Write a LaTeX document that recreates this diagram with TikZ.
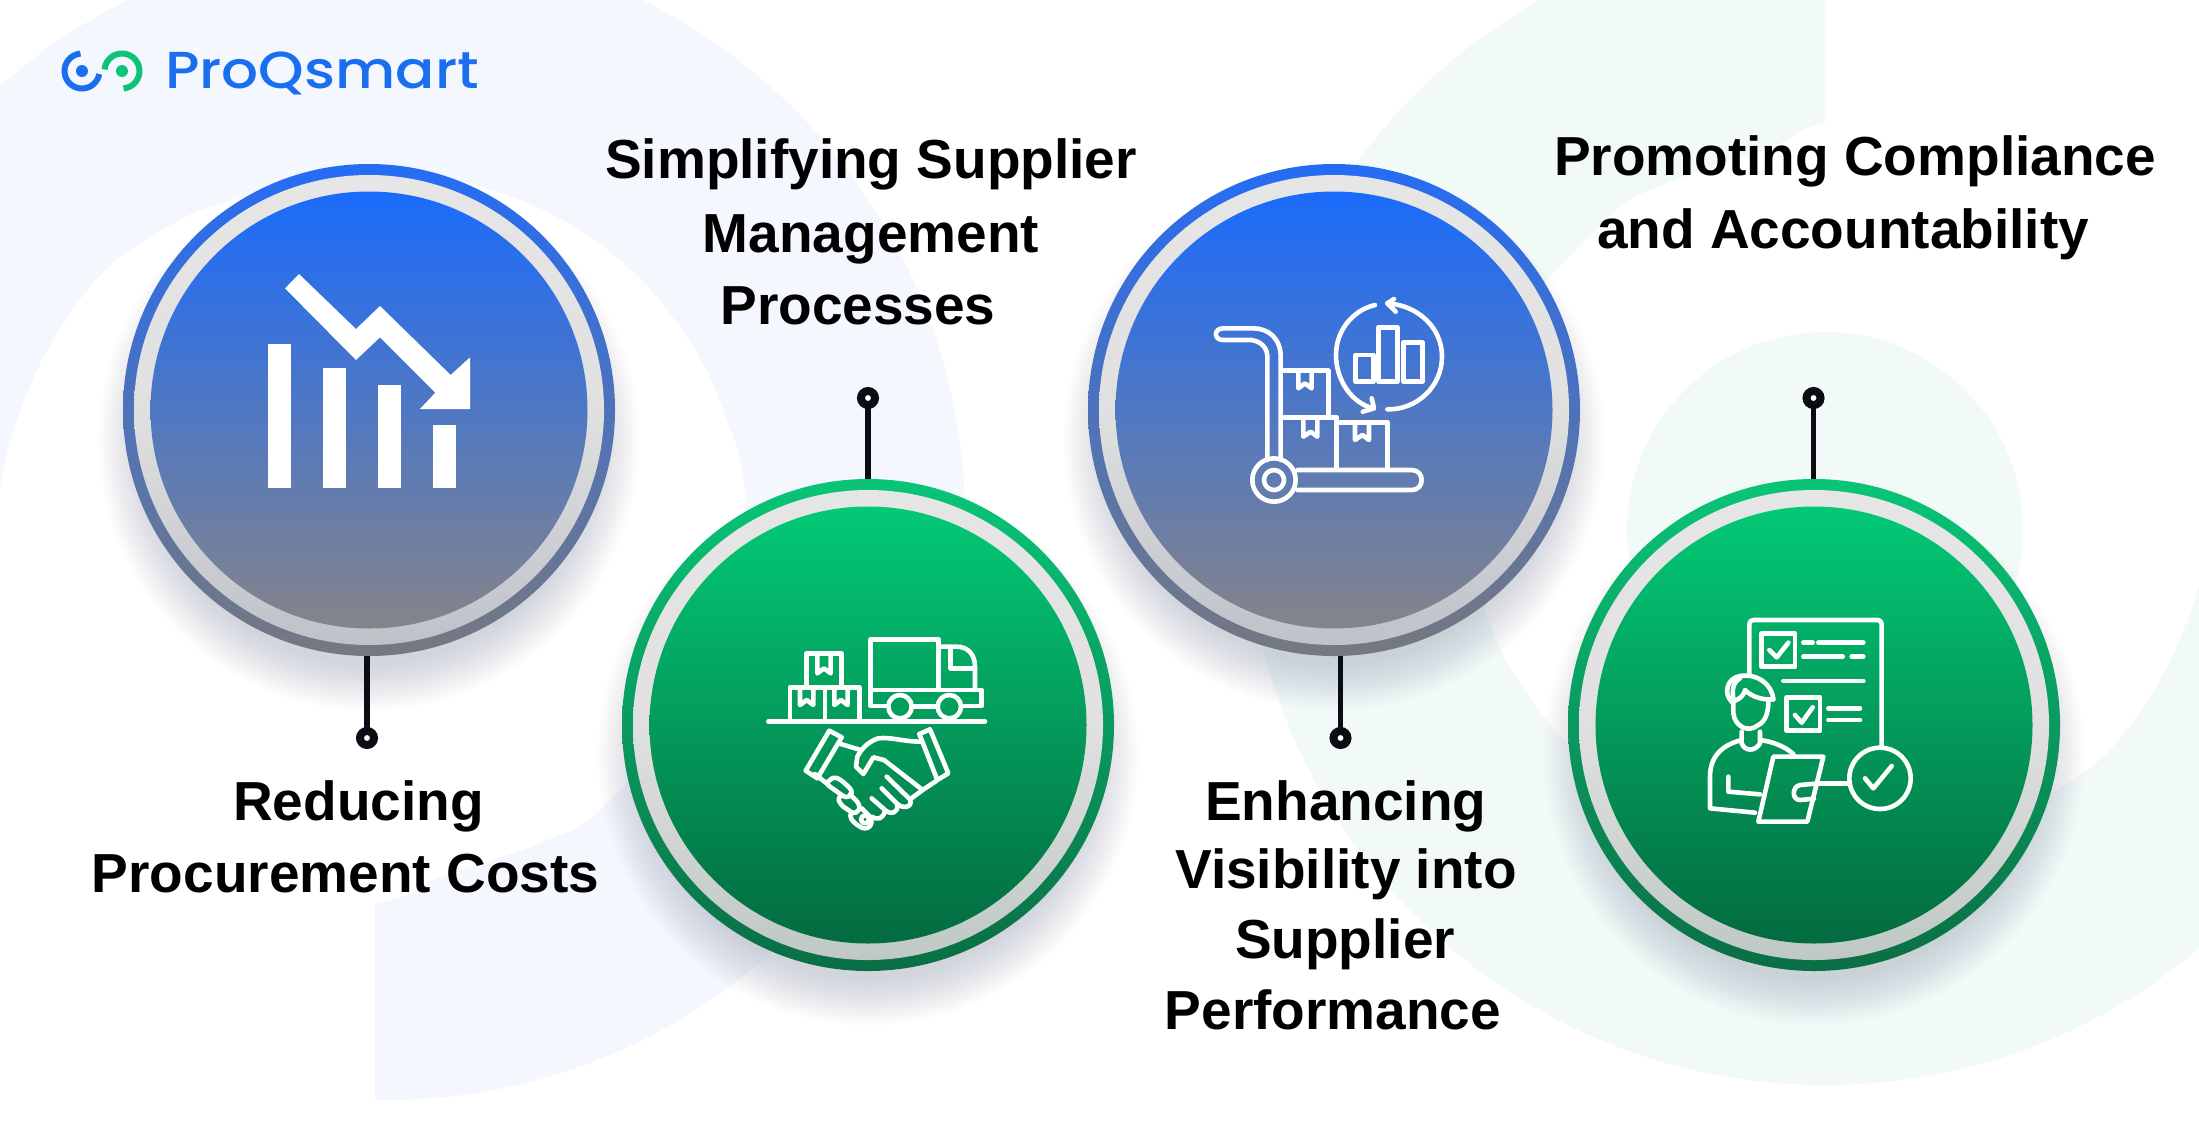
\documentclass[tikz,border=0pt]{standalone}
\usepackage{fontspec}
\setmainfont{Liberation Sans}
\newfontfamily\logofont{Poppins Medium}
\definecolor{paleblue}{HTML}{F4F7FE}
\definecolor{palegreen}{HTML}{F2FAF7}
\definecolor{shadowc}{HTML}{5A6478}
\definecolor{logoblue}{HTML}{1A6FEF}
\definecolor{logogreen}{HTML}{0CC477}
\definecolor{pinc}{HTML}{0A0D14}
\tikzset{
  lbl/.style={anchor=base,inner sep=0pt,font=\fontsize{55}{60}\selectfont\bfseries,text=black},
  disk/.style={circle,inner sep=0pt,outer sep=0pt,draw=none},
  pin/.style={circle,inner sep=0pt,outer sep=0pt,minimum size=14pt,line width=8pt,draw=pinc,fill=white},
  conn/.style={draw=pinc,line width=5.4pt},
  ico/.style={draw=white,line width=4.6pt,line join=round,line cap=round},
  icf/.style={fill=white,draw=none}
}
\newcommand{\badge}[8]{%
  \foreach \r in {225,228,...,272}{\fill[shadowc,opacity=.017] (#2,#3+30) circle[radius=\r];}
  \node[disk,minimum size=492pt,top color=#4,bottom color=#5] (#1o) at (#2,#3) {};
  \node[disk,minimum size=470pt,top color=ltop,bottom color=#6,middle color=lmid] (#1m) at (#2,#3) {};
  \node[disk,minimum size=437pt,top color=#7,bottom color=#8] (#1i) at (#2,#3) {};
}
\newcommand{\swooshpath}{(385,520) circle[radius=580]
  plot[smooth cycle,tension=.6] coordinates {(-2,530) (27,393) (93,283) (167,227) (233,200) (376,168) (520,200) (620,260) (687,337) (723,410) (745,500) (725,660) (607,803) (540,843) (440,877) (375,903) (200,903) (40,700)}}
\definecolor{ltop}{HTML}{E6E6E6}
\definecolor{lmid}{HTML}{E0E0E0}
\definecolor{rbt}{HTML}{256CF5}\definecolor{rbb}{HTML}{767880}
\definecolor{lbb}{HTML}{BEC2C9}
\definecolor{dbt}{HTML}{1A6BFB}\definecolor{dbb}{HTML}{85848A}
\definecolor{rgt}{HTML}{09C578}\definecolor{rgb}{HTML}{0A6E45}
\definecolor{lgb}{HTML}{BFC8C4}
\definecolor{dgt}{HTML}{03C975}\definecolor{dgb}{HTML}{036B40}
\begin{document}
\begin{tikzpicture}[x=1pt,y=1pt,yscale=-1]
\useasboundingbox (0,0) rectangle (2199,1128);
\fill[white] (0,0) rectangle (2199,1128);
\begin{scope}
\clip (0,0) rectangle (2199,1128);
% background swooshes
\begin{scope}
  \clip (-200,-200) rectangle (2400,520) (375,520) rectangle (2400,1400);
  \fill[paleblue,even odd rule] \swooshpath;
\end{scope}
\begin{scope}[shift={(2210,1025)},xscale=-1,yscale=-1]
  \clip (-200,-200) rectangle (2400,520) (385,520) rectangle (2400,1400);
  \fill[palegreen,even odd rule] \swooshpath;
\end{scope}
\fill[palegreen] (1825,530) circle[radius=198];
\end{scope}
% badges
\badge{a}{369}{410}{rbt}{rbb}{lbb}{dbt}{dbb}
\badge{b}{868}{725}{rgt}{rgb}{lgb}{dgt}{dgb}
\badge{c}{1334}{410}{rbt}{rbb}{lbb}{dbt}{dbb}
\badge{d}{1814}{725}{rgt}{rgb}{lgb}{dgt}{dgb}
% pins
\node[pin] (pa) at (367,738) {};
\node[pin] (pb) at (868,398) {};
\node[pin] (pc) at (1340.5,738) {};
\node[pin] (pd) at (1813.5,398) {};
\draw[conn] (pa.north) -- (pa.north |- ao.south);
\draw[conn] (pb.south) -- (pb.south |- bo.north);
\draw[conn] (pc.north) -- (pc.north |- co.south);
\draw[conn] (pd.south) -- (pd.south |- do.north);
% labels
\node[lbl] (t1) at (871,178) {Simplifying Supplier};
\node[lbl] (t2) at (871,252) {Management};
\node[lbl] (t3) at (858,324) {Processes};
\node[lbl] (t4) at (358.5,820) {Reducing};
\node[lbl] (t5) at (345.5,892) {Procurement Costs};
\node[lbl] (t6) at (1345.7,820) {Enhancing};
\node[lbl] (t7) at (1346,888.5) {Visibility into};
\node[lbl] (t8) at (1345,958) {Supplier};
\node[lbl] (t9) at (1333,1029) {Performance};
\node[lbl] (t10) at (1855,175) {Promoting Compliance};
\node[lbl] (t11) at (1843,248) {and Accountability};
% logo
\draw[logoblue,line width=6pt] (82,71) ++(-95:17.5) arc (-95:-350:17.5);
\fill[logoblue] (82,71) circle[radius=6];
\draw[logogreen,line width=6pt] (122,71) ++(85:17.5) arc (85:-175:17.5);
\fill[logogreen] (122,71) circle[radius=6];
\node[anchor=base west,inner sep=0pt,font=\logofont\fontsize{52}{60}\selectfont,text=logoblue] (logo) at (165,88) {\scalebox{1.115}[1]{ProQsmart}};
% icon 1
\begin{scope}[shift={(230,250)},scale=1/3]
\fill[icf] (113,282) rectangle (182,715);
\fill[icf] (280,355) rectangle (348,715);
\fill[icf] (445,405) rectangle (513,715);
\fill[icf] (610,525) rectangle (678,715);
\fill[icf] (207,72)--(378,237)--(450,168)--(662,375)--(720,322)--(720,477)--(570,477)--(616,428)--(450,262)--(378,330)--(165,115)--cycle;
\end{scope}
% icon 2
\begin{scope}[shift={(740,610)},scale=1/3]
\draw[ico] (85,334)--(735,334);
\draw[ico] (200,232)--(200,130)--(305,130)--(305,232);
\draw[ico] (232,130)--(232,190)--(252,175)--(272,190)--(272,130);
\draw[ico] (150,334)--(150,232)--(358,232)--(358,334);
\draw[ico] (255,232)--(255,334);
\draw[ico] (180,232)--(180,285)--(200,270)--(220,285)--(220,232);
\draw[ico] (283,232)--(283,285)--(303,270)--(323,285)--(323,232);
\draw[ico] (392,240)--(392,88)--(595,88)--(595,240);
\draw[ico] (595,110)--(650,110) .. controls (685,110) and (705,135) .. (705,170)--(705,240);
\draw[ico] (632,115)--(632,175)--(705,175);
\draw[ico] (445,288)--(392,288)--(392,240)--(725,240)--(725,288)--(665,288);
\draw[ico] (515,290)--(593,290);
\draw[ico] (480,290) circle[radius=35];
\draw[ico] (628,290) circle[radius=35];
% handshake
\draw[ico] (268,362)--(305,382)--(232,505)--(197,482)--cycle;
\draw[ico] (538,372)--(570,358)--(625,490)--(592,510)--cycle;
\draw[ico] (296,400)--(362,420);
\draw[ico] (545,395) .. controls (490,395) and (450,380) .. (415,385) .. controls (385,395) and (365,415) .. (352,440) -- (348,470) -- (370,492) -- (400,442) -- (432,450) -- (548,540);
\draw[ico] (225,492)--(262,522);
\draw[ico] (590,512)--(548,540)--(510,568);
\draw[ico] (440,500)--(510,568) .. controls (520,590) and (490,600) .. (470,580)--(425,535);
\draw[ico] (470,580) .. controls (480,610) and (450,615) .. (435,600)--(395,565);
\draw[ico] (435,600) .. controls (430,630) and (410,630) .. (395,620);
\draw[ico] (270,510) .. controls (285,495) and (300,505) .. (330,535) .. controls (345,555) and (325,570) .. (305,555) -- (270,530) .. controls (258,522) and (260,515) .. (270,510);
\draw[ico] (305,555) .. controls (290,565) and (295,575) .. (310,590) -- (335,607) .. controls (355,615) and (370,590) .. (345,568) -- (330,553);
\draw[ico] (335,607) .. controls (325,620) and (335,635) .. (360,650) .. controls (380,665) and (405,645) .. (390,620) -- (365,595);
\draw[ico] (375,628) circle[radius=12];
\end{scope}
% icon 3
\begin{scope}[shift={(1190,300)},scale=1/3]
\draw[ico] (272,480)--(272,170) .. controls (272,115) and (235,85) .. (190,85)--(100,85) .. controls (70,85) and (70,120) .. (100,120)--(185,120) .. controls (215,125) and (232,145) .. (232,170)--(232,480);
\draw[ico] (252,540) circle[radius=65];
\draw[ico] (252,540) circle[radius=30];
\draw[ico] (322,510)--(665,510) .. controls (705,510) and (705,570) .. (665,570)--(322,570);
\draw[ico] (282,212)--(415,212)--(415,345);
\draw[ico] (282,352)--(440,352)--(440,505);
\draw[ico] (445,367)--(592,367)--(592,505);
\draw[ico] (325,220)--(325,265)--(345,250)--(365,265)--(365,220);
\draw[ico] (340,355)--(340,410)--(362,395)--(382,410)--(382,355);
\draw[ico] (495,372)--(495,420)--(517,405)--(537,420)--(537,372);
\draw[ico] (555,15) .. controls (490,30) and (438,90) .. (438,165) .. controls (438,240) and (485,310) .. (550,325);
\draw[ico] (545,295)--(552,325)--(518,335);
\draw[ico] (592,10) .. controls (680,15) and (756,80) .. (756,170) .. controls (756,260) and (680,330) .. (592,328);
\draw[ico] (612,-3)--(592,10)--(617,35);
\draw[ico] (497,165)--(550,165)--(550,245)--(497,245)--cycle;
\draw[ico] (565,82)--(622,82)--(622,245)--(565,245)--cycle;
\draw[ico] (640,127)--(697,127)--(697,245)--(640,245)--cycle;
\end{scope}
% icon 4
\begin{scope}[shift={(1690,600)},scale=1/3]
\draw[ico] (178,225)--(178,75) .. controls (178,65) and (183,60) .. (193,60)--(560,60) .. controls (570,60) and (575,65) .. (575,75)--(575,435);
\draw[ico] (215,100) rectangle (315,200);
\draw[ico] (238,150)--(260,172)--(295,128);
\draw[ico] (340,128)--(368,128);
\draw[ico] (385,128)--(520,128);
\draw[ico] (340,170)--(458,170);
\draw[ico] (485,170)--(520,170);
\draw[ico] (280,243)--(520,243);
\draw[ico] (290,292) rectangle (390,392);
\draw[ico] (315,345)--(335,368)--(368,322);
\draw[ico] (415,325)--(510,325);
\draw[ico] (415,360)--(510,360);
\draw[ico] (570,535) circle[radius=92];
\draw[ico] (525,535)--(550,565)--(605,498);
% person
\draw[ico] (125,305) .. controls (100,280) and (110,235) .. (150,228) .. controls (200,220) and (245,250) .. (250,298);
\draw[ico] (125,305) .. controls (150,300) and (165,280) .. (165,270) .. controls (190,295) and (225,300) .. (250,298);
\draw[ico] (150,235) .. controls (130,245) and (125,270) .. (130,295);
\draw[ico] (130,305)--(130,340) .. controls (135,380) and (175,400) .. (205,375) .. controls (225,365) and (235,340) .. (235,305);
\draw[ico] (155,395)--(155,430) .. controls (165,455) and (195,455) .. (210,430)--(210,395);
\draw[ico] (155,420) .. controls (95,435) and (60,470) .. (60,530)--(60,625)--(195,638);
\draw[ico] (210,420) .. controls (250,425) and (285,440) .. (310,462);
\draw[ico] (115,530)--(115,575)--(210,583);
\draw[ico] (250,470)--(400,470)--(352,665)--(205,665)--cycle;
\draw[ico] (388,550)--(330,555) .. controls (305,560) and (305,600) .. (330,600)--(372,596);
\draw[ico] (388,550)--(478,550);
\end{scope}
\end{tikzpicture}
\end{document}
